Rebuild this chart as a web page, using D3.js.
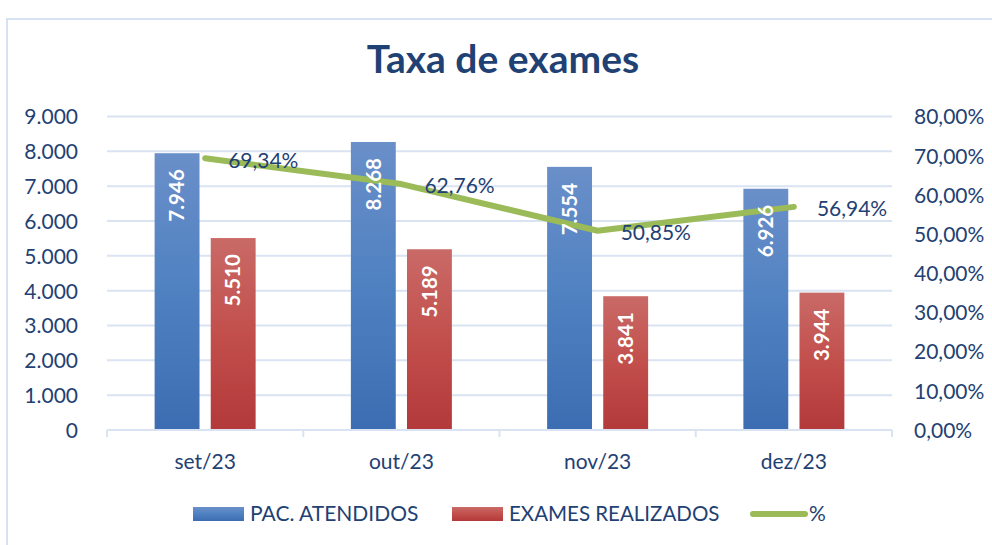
<!DOCTYPE html>
<html>
<head>
<meta charset="utf-8">
<script src="https://cdn.jsdelivr.net/npm/d3@7"></script>
<style>
  html, body { margin: 0; padding: 0; background: #ffffff; }
  svg { display: block; }
  text { font-family: Lato, "Open Sans", sans-serif; }
</style>
</head>
<body>
<svg id="chart" width="992" height="545"></svg>
<script>
// Monthly data
const categories = ["set/23", "out/23", "nov/23", "dez/23"];
const seriesNames = ["PAC. ATENDIDOS", "EXAMES REALIZADOS", "%"];
const pacAtendidos = [7946, 8268, 7554, 6926];
const examesRealizados = [5510, 5189, 3841, 3944];
const taxa = [69.34, 62.76, 50.85, 56.94];
const leftTicks = [0, 1000, 2000, 3000, 4000, 5000, 6000, 7000, 8000, 9000];
const rightTicks = [0, 10, 20, 30, 40, 50, 60, 70, 80];

const textColor = "#1F4173";
const gridColor = "#D9E3F2";

const svg = d3.select("#chart");
const ptFmt = d3.formatLocale({ decimal: ",", thousands: ".", grouping: [3], currency: ["R$", ""] });
const intFmt = ptFmt.format(",d");
const pctFmt = v => ptFmt.format(".2f")(v) + "%";

// Outer frame
svg.append("rect")
  .attr("x", 7).attr("y", 19).attr("width", 1000).attr("height", 600)
  .attr("fill", "none").attr("stroke", "#D6E2F3").attr("stroke-width", 2);

// Title
svg.append("text")
  .attr("x", 503).attr("y", 73)
  .attr("text-anchor", "middle")
  .attr("font-weight", 700).attr("font-size", 39)
  .attr("fill", "#1F4173")
  .text("Taxa de exames");

const plot = { left: 107, right: 892, top: 116.5, bottom: 430 };

const x0 = d3.scaleBand().domain(categories).range([plot.left, plot.right]).paddingInner(0).paddingOuter(0);
const yL = d3.scaleLinear().domain([0, 9000]).range([plot.bottom, plot.top]);
const yR = d3.scaleLinear().domain([0, 80]).range([plot.bottom, plot.top]);

// Gridlines
svg.append("g").selectAll("line").data(leftTicks.filter(d => d > 0)).join("line")
  .attr("x1", plot.left).attr("x2", plot.right)
  .attr("y1", d => yL(d)).attr("y2", d => yL(d))
  .attr("stroke", gridColor).attr("stroke-width", 2);

// Left axis labels
const axisL = d3.axisLeft(yL).tickValues(leftTicks).tickFormat(intFmt).tickSize(0).tickPadding(0);
const gL = svg.append("g").attr("transform", "translate(78,0)").call(axisL);
gL.select(".domain").remove();
gL.selectAll("text").attr("font-size", 21).attr("fill", textColor)
  .attr("font-family", "Lato, sans-serif").attr("dy", "0.35em");

// Right axis labels
const axisR = d3.axisRight(yR).tickValues(rightTicks).tickFormat(v => ptFmt.format(".2f")(v) + "%").tickSize(0).tickPadding(0);
const gR = svg.append("g").attr("transform", "translate(914,0)").call(axisR);
gR.select(".domain").remove();
gR.selectAll("text").attr("font-size", 21).attr("fill", textColor)
  .attr("font-family", "Lato, sans-serif").attr("dy", "0.35em");

// Gradients for bars
const defs = svg.append("defs");
function grad(id, top, mid, bottom) {
  const g = defs.append("linearGradient").attr("id", id)
    .attr("x1", 0).attr("y1", 0).attr("x2", 0).attr("y2", 1);
  g.append("stop").attr("offset", "0%").attr("stop-color", top);
  g.append("stop").attr("offset", "50%").attr("stop-color", mid);
  g.append("stop").attr("offset", "100%").attr("stop-color", bottom);
}
grad("gBlue", "#6A8FC9", "#4F81C1", "#3C6DB2");
grad("gRed", "#C96A67", "#C24F4C", "#B3393A");

// Grouped bars
const barSeries = [
  { name: seriesNames[0], values: pacAtendidos, fill: "url(#gBlue)" },
  { name: seriesNames[1], values: examesRealizados, fill: "url(#gRed)" }
];
const groupHalf = 50.5;
const x1 = d3.scaleBand().domain([0, 1]).paddingInner(0.2).paddingOuter(0);

const barsG = svg.append("g");
const lineG = svg.append("g");
const barLabelsG = svg.append("g");
const lineLabelsG = svg.append("g");

categories.forEach((c, i) => {
  const cx = x0(c) + x0.bandwidth() / 2;
  x1.range([cx - groupHalf, cx + groupHalf]);
  barSeries.forEach((s, si) => {
    const v = s.values[i];
    const bx = x1(si), bw = x1.bandwidth();
    barsG.append("rect")
      .attr("x", bx).attr("y", yL(v))
      .attr("width", bw).attr("height", yL(0) - yL(v))
      .attr("fill", s.fill);
    // value label, rotated, inside end
    const lx = bx + bw / 2, ly = yL(v) + 16;
    barLabelsG.append("text")
      .attr("transform", `translate(${lx},${ly}) rotate(-90)`)
      .attr("text-anchor", "end")
      .attr("dy", "0.35em")
      .attr("font-size", 20.5).attr("font-weight", 700)
      .attr("fill", "#ffffff")
      .text(intFmt(v));
  });
});

// Baseline with category tick marks
barsG.append("line")
  .attr("x1", plot.left).attr("x2", plot.right)
  .attr("y1", yL(0)).attr("y2", yL(0))
  .attr("stroke", gridColor).attr("stroke-width", 2);
const boundaries = categories.map(c => x0(c)).concat([plot.right]);
barsG.append("g").selectAll("line").data(boundaries).join("line")
  .attr("x1", d => d).attr("x2", d => d)
  .attr("y1", yL(0)).attr("y2", yL(0) + 7)
  .attr("stroke", gridColor).attr("stroke-width", 2);

// Category labels
const axisB = d3.axisBottom(x0).tickSize(0).tickPadding(0);
const gB = svg.append("g").attr("transform", `translate(0,${yL(0) + 32})`).call(axisB);
gB.select(".domain").remove();
gB.selectAll("text").attr("font-size", 21).attr("fill", textColor)
  .attr("font-family", "Lato, sans-serif").attr("dy", "0.35em");

// Percentage line
const line = d3.line()
  .x((d, i) => x0(categories[i]) + x0.bandwidth() / 2)
  .y(d => yR(d));
lineG.append("path")
  .datum(taxa)
  .attr("d", line)
  .attr("fill", "none")
  .attr("stroke", "#9BBB59").attr("stroke-width", 6)
  .attr("stroke-linecap", "round").attr("stroke-linejoin", "round");

// Percentage labels (right of points)
lineLabelsG.selectAll("text").data(taxa).join("text")
  .attr("x", (d, i) => x0(categories[i]) + x0.bandwidth() / 2 + 23)
  .attr("y", d => yR(d) + 2)
  .attr("dy", "0.35em")
  .attr("font-size", 21).attr("fill", textColor)
  .text(d => pctFmt(d));

// Legend
const legend = svg.append("g");
const ly = 514;
legend.append("rect").attr("x", 193).attr("y", ly - 7).attr("width", 51).attr("height", 14).attr("fill", "url(#gBlue)");
legend.append("text").attr("x", 250).attr("y", ly).attr("dy", "0.35em").attr("font-size", 21).attr("fill", textColor).text(seriesNames[0]);
legend.append("rect").attr("x", 452).attr("y", ly - 7).attr("width", 51).attr("height", 14).attr("fill", "url(#gRed)");
legend.append("text").attr("x", 509).attr("y", ly).attr("dy", "0.35em").attr("font-size", 20.5).attr("fill", textColor).text(seriesNames[1]);
legend.append("line").attr("x1", 753).attr("x2", 805).attr("y1", ly).attr("y2", ly)
  .attr("stroke", "#9BBB59").attr("stroke-width", 6).attr("stroke-linecap", "round");
legend.append("text").attr("x", 809).attr("y", ly).attr("dy", "0.35em").attr("font-size", 21).attr("fill", textColor).text(seriesNames[2]);
</script>
</body>
</html>
